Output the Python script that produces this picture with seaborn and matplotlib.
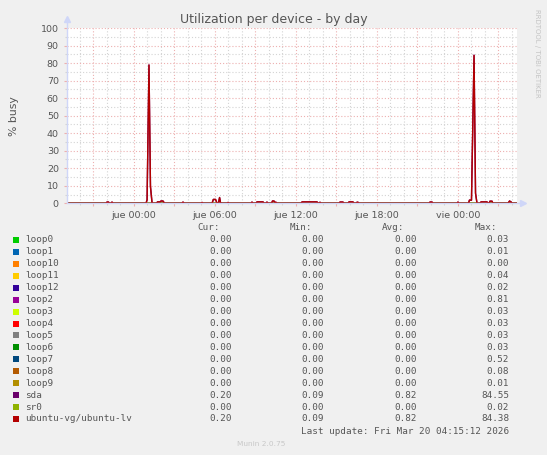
"""Munin-style 'Utilization per device - by day' chart redrawn with seaborn."""
import matplotlib
matplotlib.use("Agg")
import matplotlib.pyplot as plt
from matplotlib.lines import Line2D
from matplotlib.patches import Rectangle
from matplotlib.ticker import FixedLocator, MultipleLocator
import pandas as pd
import seaborn as sns

# ---- data (hours relative to "jue 00:00") ----
X_START = -4.98
X_END = 28.37

DEVICES = ["loop0", "loop1", "loop10", "loop11", "loop12", "loop2", "loop3", "loop4",
           "loop5", "loop6", "loop7", "loop8", "loop9", "sda", "sr0", "ubuntu-vg/ubuntu-lv"]
COLORS = ["#00CC00", "#0066B3", "#FF8000", "#FFCC00", "#330099", "#990099", "#CCFF00", "#FF0000",
          "#808080", "#008F00", "#00487D", "#B35A00", "#B38F00", "#6B006B", "#8FB300", "#B30000"]
CUR = ["0.00"] * 13 + ["0.20", "0.00", "0.20"]
MIN = ["0.00"] * 13 + ["0.09", "0.00", "0.09"]
AVG = ["0.00"] * 13 + ["0.82", "0.00", "0.82"]
MAX = ["0.03", "0.01", "0.00", "0.04", "0.02", "0.81", "0.03", "0.03",
       "0.03", "0.03", "0.52", "0.08", "0.01", "84.55", "0.02", "84.38"]

# busy disk trace (ubuntu-vg/ubuntu-lv); sda follows it almost exactly
LV_HOURS = [-4.98, -2.05, -1.98, -1.87, -1.79, -1.68, -1.61, -1.53,
            0.91, 0.99, 1.13, 1.24, 1.36,
            1.69, 1.76, 1.95, 2.02, 2.17, 2.28,
            3.58, 3.65, 3.73, 4.99, 5.06, 5.13,
            5.80, 5.90, 6.06, 6.16, 6.28, 6.36, 6.43, 6.50,
            6.91, 6.99, 7.06, 8.69, 8.76, 8.84,
            9.06, 9.13, 9.58, 9.65, 9.80, 9.87, 9.95,
            10.21, 10.28, 10.39, 10.47, 10.54, 10.61,
            12.39, 12.47, 13.58, 13.65, 13.73, 13.80, 13.87,
            15.21, 15.28, 15.50, 15.58, 15.87, 15.95, 16.24, 16.32,
            16.47, 16.54, 16.61, 16.69,
            21.87, 21.95, 22.10, 22.17, 23.95, 24.02, 24.10,
            24.80, 24.87, 25.02, 25.21, 25.32, 25.43,
            25.65, 25.73, 26.17, 26.24, 26.32, 26.39, 26.54, 26.61,
            27.73, 27.84, 27.95, 28.02, 28.37]
LV_BUSY = [0, 0, 0.7, 0.7, 0, 0, 0.7, 0,
           0, 2.0, 78.8, 9.5, 0,
           0, 0.8, 0.8, 1.3, 1.3, 0,
           0, 0.7, 0, 0, 0.5, 0,
           0, 2.2, 2.2, 0.3, 0.3, 3.3, 0.3, 0,
           0, 0.5, 0, 0, 0.7, 0,
           0, 0.8, 0.8, 0, 0, 0.7, 0,
           0, 1.3, 1.3, 0.5, 0.6, 0,
           0, 0.8, 0.8, 0, 0, 0.6, 0,
           0, 0.7, 0.7, 0, 0, 0.8, 0.8, 0,
           0, 0.6, 0.6, 0,
           0, 0.7, 0.7, 0, 0, 0.7, 0,
           0, 1.8, 1.8, 84.38, 5.7, 0,
           0, 0.8, 0.8, 0, 0, 1.2, 1.2, 0,
           0, 1.3, 0.8, 0, 0]
SDA_BUSY = [0, 0, 0.7, 0.7, 0, 0, 0.7, 0,
            0, 2.0, 79.0, 9.6, 0,
            0, 0.8, 0.8, 1.3, 1.3, 0,
            0, 0.7, 0, 0, 0.5, 0,
            0, 2.2, 2.2, 0.3, 0.3, 3.3, 0.3, 0,
            0, 0.5, 0, 0, 0.7, 0,
            0, 0.8, 0.8, 0, 0, 0.7, 0,
            0, 1.3, 1.3, 0.5, 0.6, 0,
            0, 0.8, 0.8, 0, 0, 0.6, 0,
            0, 0.7, 0.7, 0, 0, 0.8, 0.8, 0,
            0, 0.6, 0.6, 0,
            0, 0.7, 0.7, 0, 0, 0.7, 0,
            0, 1.8, 1.8, 84.55, 5.8, 0,
            0, 0.8, 0.8, 0, 0, 1.2, 1.2, 0,
            0, 1.3, 0.8, 0, 0]
IDLE_HOURS = [X_START, X_END]
IDLE_BUSY = [0, 0]

X_TICK_HOURS = [0, 6, 12, 18, 24]
X_TICK_LABELS = ["jue 00:00", "jue 06:00", "jue 12:00", "jue 18:00", "vie 00:00"]

TEXT = "#555555"
MGRID = "#EDB0B0"
GRID = "#D4D4D4"
AXIS = "#CFD6F8"

# ---- long table for seaborn ----
frames = []
for dev in DEVICES:
    if dev == "ubuntu-vg/ubuntu-lv":
        hrs, vals = LV_HOURS, LV_BUSY
    elif dev == "sda":
        hrs, vals = LV_HOURS, SDA_BUSY
    else:
        hrs, vals = IDLE_HOURS, IDLE_BUSY
    frames.append(pd.DataFrame({"hours": hrs, "busy": vals, "device": dev}))
df = pd.concat(frames, ignore_index=True)

sns.set_theme(style="white")
plt.rcParams["font.family"] = ["DejaVu Sans"]

W, H = 547, 455
fig = plt.figure(figsize=(W / 100, H / 100), dpi=100, facecolor="#F0F0F0")
L, R, T, B = 66.5, 516.7, 28.0, 203.3
ax = fig.add_axes([L / W, 1 - B / H, (R - L) / W, (B - T) / H])
ax.set_facecolor("white")

sns.lineplot(data=df, x="hours", y="busy", hue="device", hue_order=DEVICES,
             palette=dict(zip(DEVICES, COLORS)), legend=False, sort=False,
             estimator=None, linewidth=1.0, ax=ax)

ax.set_xlim(X_START, X_END)
ax.set_ylim(0, 100)

major_x = [h for h in range(-3, 28, 3)]
ax.xaxis.set_major_locator(FixedLocator(major_x))
ax.xaxis.set_minor_locator(MultipleLocator(1))
lab = dict(zip(X_TICK_HOURS, X_TICK_LABELS))
ax.set_xticklabels([lab.get(h, "") for h in major_x])
ax.yaxis.set_major_locator(MultipleLocator(10))
ax.yaxis.set_minor_locator(MultipleLocator(5))

ax.grid(which="major", color=MGRID, linestyle=(0, (1, 1.8)), linewidth=0.8)
ax.grid(which="minor", color=GRID, linestyle=(0, (1, 1.8)), linewidth=0.8)
ax.set_axisbelow(True)

ax.tick_params(axis="both", which="major", length=2, width=0.8, color=MGRID,
               labelsize=6.8, labelcolor=TEXT, pad=3.5)
ax.tick_params(axis="both", which="minor", length=1.5, width=0.8, color=GRID)
ax.tick_params(axis="both", bottom=True, left=True, which="both")

for s in ax.spines.values():
    s.set_visible(False)
ax.set_xlabel("")
ax.set_ylabel("% busy", fontsize=7.8, color=TEXT, labelpad=16)

# axis lines with arrows (rrdtool look)
ax.add_line(Line2D([0, 0], [0, 1.045], transform=ax.transAxes, color=AXIS, lw=1, clip_on=False))
ax.add_line(Line2D([0, 1.01], [0, 0], transform=ax.transAxes, color=AXIS, lw=1, clip_on=False))
ax.plot([0], [1.05], marker="^", ms=5, color=AXIS, transform=ax.transAxes, clip_on=False)
ax.plot([1.014], [0], marker=">", ms=5, color=AXIS, transform=ax.transAxes, clip_on=False)

fig.text(0.5, 1 - 19 / H, "Utilization per device - by day", ha="center", va="center",
         fontsize=9, color=TEXT)
fig.text(537 / W, 1 - 53 / H, "RRDTOOL / TOBI OETIKER", rotation=270, ha="center",
         va="center", fontsize=5, color="#C4C4C4")

# ---- legend table ----
mono = dict(family="DejaVu Sans Mono", fontsize=6.7, color=TEXT, va="center")
for x_px, head in zip([220, 312, 404, 497], ["Cur:", "Min:", "Avg:", "Max:"]):
    fig.text(x_px / W, 1 - 228 / H, head, ha="right", **mono)
for i, dev in enumerate(DEVICES):
    y_px = 240 + i * 11.93
    fig.patches.append(Rectangle((13.3 / W, 1 - (y_px + 3) / H), 6 / W, 6 / H,
                                 transform=fig.transFigure, facecolor=COLORS[i],
                                 edgecolor="none"))
    fig.text(25 / W, 1 - y_px / H, dev, ha="left", **mono)
    for x_px, col in zip([231.7, 324, 416.7, 509.3], [CUR, MIN, AVG, MAX]):
        fig.text(x_px / W, 1 - y_px / H, col[i], ha="right", **mono)
fig.text(509.3 / W, 1 - 431 / H, "Last update: Fri Mar 20 04:15:12 2026", ha="right", **mono)
fig.text(261 / W, 1 - 444 / H, "Munin 2.0.75", ha="center", va="center", fontsize=5.3,
         color="#C8C8C8")

fig.savefig("out.png", dpi=100, facecolor=fig.get_facecolor())
